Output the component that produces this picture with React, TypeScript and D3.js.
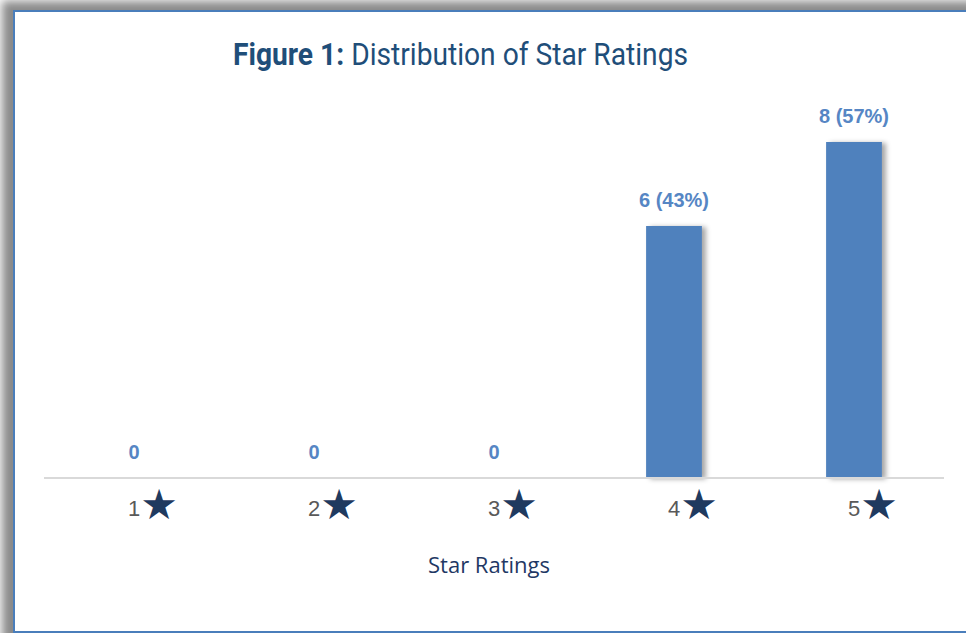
import * as d3 from "d3";

const ratings = ["1", "2", "3", "4", "5"];
const counts = [0, 0, 0, 6, 8];
const percents: (number | null)[] = [null, null, null, 43, 57];
const titleBold = "Figure 1:";
const titleRest = " Distribution of Star Ratings";
const axisTitle = "Star Ratings";

export default function App() {
  const width = 966;
  const height = 633;
  const margin = { top: 58, left: 44, right: 22, bottom: 155 };
  const baseY = height - margin.bottom;

  const x = d3
    .scaleBand<string>()
    .domain(ratings)
    .range([margin.left, width - margin.right])
    .paddingInner(0.69)
    .paddingOuter(0.345);

  const y = d3.scaleLinear().domain([0, 10]).range([baseY, margin.top]);

  const label = (i: number) =>
    percents[i] == null ? `${counts[i]}` : `${counts[i]} (${percents[i]}%)`;

  return (
    <svg
      width={width}
      height={height}
      style={{ position: "absolute", left: 0, top: 0, background: "#fff" }}
    >
      <defs>
        <filter id="frameShadow" x="-10%" y="-10%" width="120%" height="120%">
          <feGaussianBlur stdDeviation="5" />
        </filter>
        <filter id="barShadow" x="-20%" y="-5%" width="160%" height="110%">
          <feDropShadow dx="4" dy="1" stdDeviation="2.5" floodColor="#000" floodOpacity="0.35" />
        </filter>
      </defs>

      {/* frame with soft shadow */}
      <rect x={2} y={1} width={1000} height={650} fill="#8a8a8a" filter="url(#frameShadow)" />
      <rect x={14} y={11} width={1000} height={621} fill="#fff" stroke="#4a7ebb" strokeWidth={2} />

      {/* title */}
      <text
        x={233}
        y={65}
        fill="#1f4e79"
        style={{ fontFamily: "'Liberation Sans Narrow', 'Roboto', sans-serif", fontSize: 31 }}
        textLength={455}
        lengthAdjust="spacingAndGlyphs"
      >
        <tspan fontWeight={700}>{titleBold}</tspan>
        <tspan>{titleRest}</tspan>
      </text>

      {/* bars */}
      {ratings.map((r, i) =>
        counts[i] > 0 ? (
          <rect
            key={r}
            x={x(r)}
            y={y(counts[i])}
            width={x.bandwidth()}
            height={baseY - y(counts[i])}
            fill="#4f81bd"
            filter="url(#barShadow)"
          />
        ) : null
      )}

      {/* axis line */}
      <line x1={margin.left} x2={width - margin.right} y1={baseY} y2={baseY} stroke="#d9d9d9" strokeWidth={2} />

      {/* data labels */}
      {ratings.map((r, i) => (
        <text
          key={r}
          x={(x(r) ?? 0) + x.bandwidth() / 2}
          y={y(counts[i]) - 19}
          textAnchor="middle"
          fill="#5686c4"
          style={{ fontFamily: "'Liberation Sans', Arial, sans-serif", fontSize: 20, fontWeight: 700 }}
        >
          {label(i)}
        </text>
      ))}

      {/* tick labels */}
      {ratings.map((r) => (
        <text
          key={r}
          x={(x(r) ?? 0) + x.bandwidth() / 2 - 6}
          y={516}
          style={{ fontFamily: "'Liberation Sans', Arial, sans-serif", fontSize: 22 }}
        >
          <tspan fill="#595959">{r}</tspan>
          <tspan fill="#1f3a5f" style={{ fontFamily: "'DejaVu Sans', sans-serif", fontSize: 42 }} dy={3}>
            ★
          </tspan>
        </text>
      ))}

      {/* axis title */}
      <text
        x={489}
        y={573}
        textAnchor="middle"
        fill="#1f3864"
        style={{ fontFamily: "'Open Sans', 'Liberation Sans', sans-serif", fontSize: 22 }}
      >
        {axisTitle}
      </text>
    </svg>
  );
}
